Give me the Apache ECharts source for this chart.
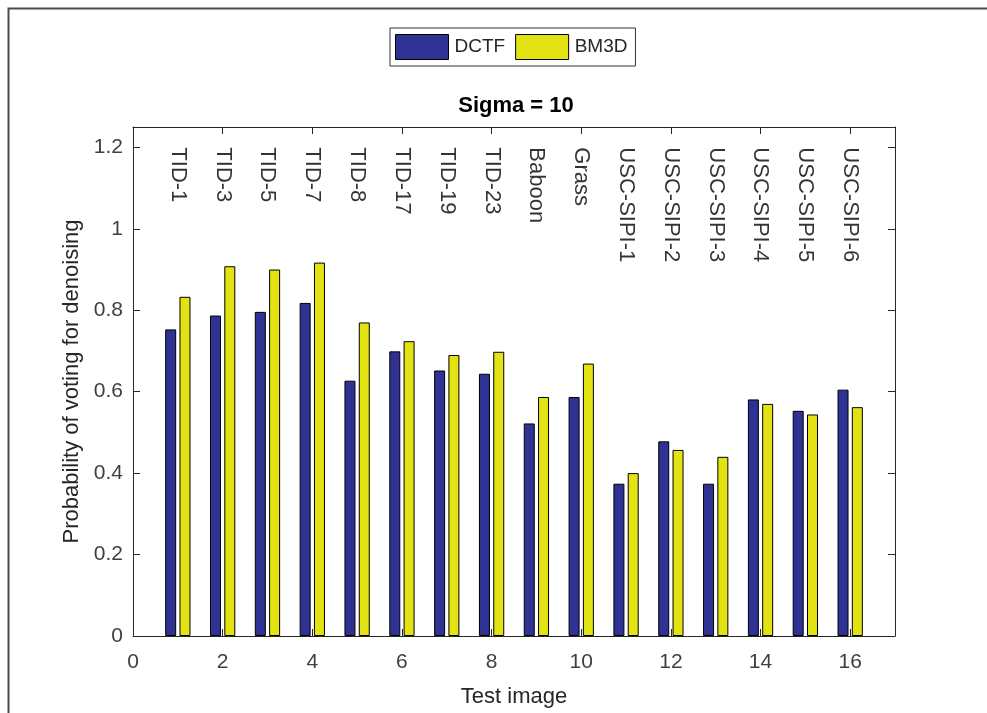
<!DOCTYPE html>
<html>
<head>
<meta charset="utf-8">
<title>Sigma = 10</title>
<script src="https://cdn.jsdelivr.net/npm/echarts@6/dist/echarts.min.js"></script>
<style>
  html, body { margin: 0; padding: 0; background: #ffffff; }
  #chart { width: 987px; height: 713px; }
</style>
</head>
<body>
<div id="chart"></div>
<script>
// Test images, in plotting order (x = 1..16)
const imageNames = [
  'TID-1', 'TID-3', 'TID-5', 'TID-7', 'TID-8', 'TID-17', 'TID-19', 'TID-23',
  'Baboon', 'Grass', 'USC-SIPI-1', 'USC-SIPI-2', 'USC-SIPI-3', 'USC-SIPI-4',
  'USC-SIPI-5', 'USC-SIPI-6'
];

// Probability of voting for denoising, per method
const dctfValues = [0.753, 0.787, 0.796, 0.818, 0.627, 0.699, 0.652, 0.644,
                    0.522, 0.587, 0.374, 0.478, 0.374, 0.581, 0.553, 0.605];
const bm3dValues = [0.833, 0.908, 0.900, 0.917, 0.770, 0.724, 0.690, 0.698,
                    0.587, 0.669, 0.400, 0.457, 0.440, 0.570, 0.544, 0.562];

// Height at which the rotated image names hang inside the axes
const nameLabelY = 1.2;

const fontFamily = '"Liberation Sans", Arial, Helvetica, sans-serif';
const axisColor = '#262626';
const tickColor = '#404040';

const chart = echarts.init(document.getElementById('chart'), null, { renderer: 'canvas' });

const toPoints = (arr) => arr.map((v, i) => [i + 1, v]);

const sharedX = { type: 'value', min: 0, max: 17, interval: 2 };
const sharedY = { type: 'value', min: 0, max: 1.25, interval: 0.2 };

const option = {
  animation: false,
  backgroundColor: '#ffffff',
  textStyle: { fontFamily: fontFamily },
  graphic: [{
    type: 'rect',
    left: 6, top: 6,
    shape: { width: 1100, height: 1100 },
    style: { fill: 'none', stroke: '#4a4a4a', lineWidth: 2 },
    silent: true
  }],
  title: {
    text: 'Sigma = 10',
    left: 511, top: 90,
    textAlign: 'center',
    textStyle: { fontFamily: fontFamily, fontSize: 22, fontWeight: 'bold', color: '#000000' }
  },
  legend: {
    data: ['DCTF', 'BM3D'],
    left: 390, top: 28,
    orient: 'horizontal',
    padding: [6, 8, 6, 5],
    itemGap: 10,
    itemWidth: 53,
    itemHeight: 25,
    icon: 'rect',
    borderColor: '#333333',
    borderWidth: 1,
    backgroundColor: '#ffffff',
    itemStyle: { borderColor: '#000000', borderWidth: 1 },
    textStyle: { fontFamily: fontFamily, fontSize: 19, color: '#262626', width: 57,
                 padding: [0, 0, 0, 1] }
  },
  grid: { left: 133, top: 127, right: 92, bottom: 76, containLabel: false },
  xAxis: [
    Object.assign({}, sharedX, {
      position: 'bottom',
      name: 'Test image',
      nameLocation: 'middle',
      nameGap: 50,
      nameTextStyle: { fontFamily: fontFamily, fontSize: 22, color: axisColor },
      axisLine: { show: true, lineStyle: { color: axisColor, width: 1 } },
      axisTick: { show: true, inside: true, length: 7, lineStyle: { color: axisColor } },
      axisLabel: { show: true, margin: 16, fontSize: 21, color: tickColor, fontFamily: fontFamily,
                   showMaxLabel: false },
      splitLine: { show: false }
    }),
    Object.assign({}, sharedX, {
      position: 'top',
      axisLine: { show: true, onZero: false, lineStyle: { color: axisColor, width: 1 } },
      axisTick: { show: true, inside: true, length: 7, lineStyle: { color: axisColor } },
      axisLabel: { show: false },
      splitLine: { show: false }
    })
  ],
  yAxis: [
    Object.assign({}, sharedY, {
      position: 'left',
      name: 'Probability of voting for denoising',
      nameLocation: 'middle',
      nameGap: 46,
      nameTextStyle: { fontFamily: fontFamily, fontSize: 22, color: axisColor },
      axisLine: { show: true, lineStyle: { color: axisColor, width: 1 } },
      axisTick: { show: true, inside: true, length: 7, lineStyle: { color: axisColor } },
      axisLabel: { show: true, margin: 10, fontSize: 21, color: tickColor, fontFamily: fontFamily,
                   showMaxLabel: false,
                   formatter: (v) => String(Math.round(v * 10) / 10) },
      splitLine: { show: false }
    }),
    Object.assign({}, sharedY, {
      position: 'right',
      axisLine: { show: true, onZero: false, lineStyle: { color: axisColor, width: 1 } },
      axisTick: { show: true, inside: true, length: 7, lineStyle: { color: axisColor } },
      axisLabel: { show: false },
      splitLine: { show: false }
    })
  ],
  series: [
    {
      name: 'DCTF',
      type: 'bar',
      xAxisIndex: 0, yAxisIndex: 0,
      data: toPoints(dctfValues),
      barWidth: 11,
      barGap: '30%',
      itemStyle: { color: '#2f3292', borderColor: '#000000', borderWidth: 1 }
    },
    {
      name: 'BM3D',
      type: 'bar',
      xAxisIndex: 0, yAxisIndex: 0,
      data: toPoints(bm3dValues),
      barWidth: 11,
      barGap: '30%',
      itemStyle: { color: '#e3e314', borderColor: '#000000', borderWidth: 1 }
    },
    {
      name: 'image names',
      type: 'scatter',
      xAxisIndex: 0, yAxisIndex: 0,
      symbolSize: 0,
      silent: true,
      data: imageNames.map((n, i) => ({ value: [i + 1, nameLabelY], name: n })),
      label: {
        show: true,
        position: 'inside',
        rotate: -90,
        align: 'left',
        verticalAlign: 'middle',
        formatter: (p) => p.name,
        fontFamily: fontFamily,
        fontSize: 22,
        color: '#000000'
      }
    }
  ]
};

chart.setOption(option);
</script>
</body>
</html>
